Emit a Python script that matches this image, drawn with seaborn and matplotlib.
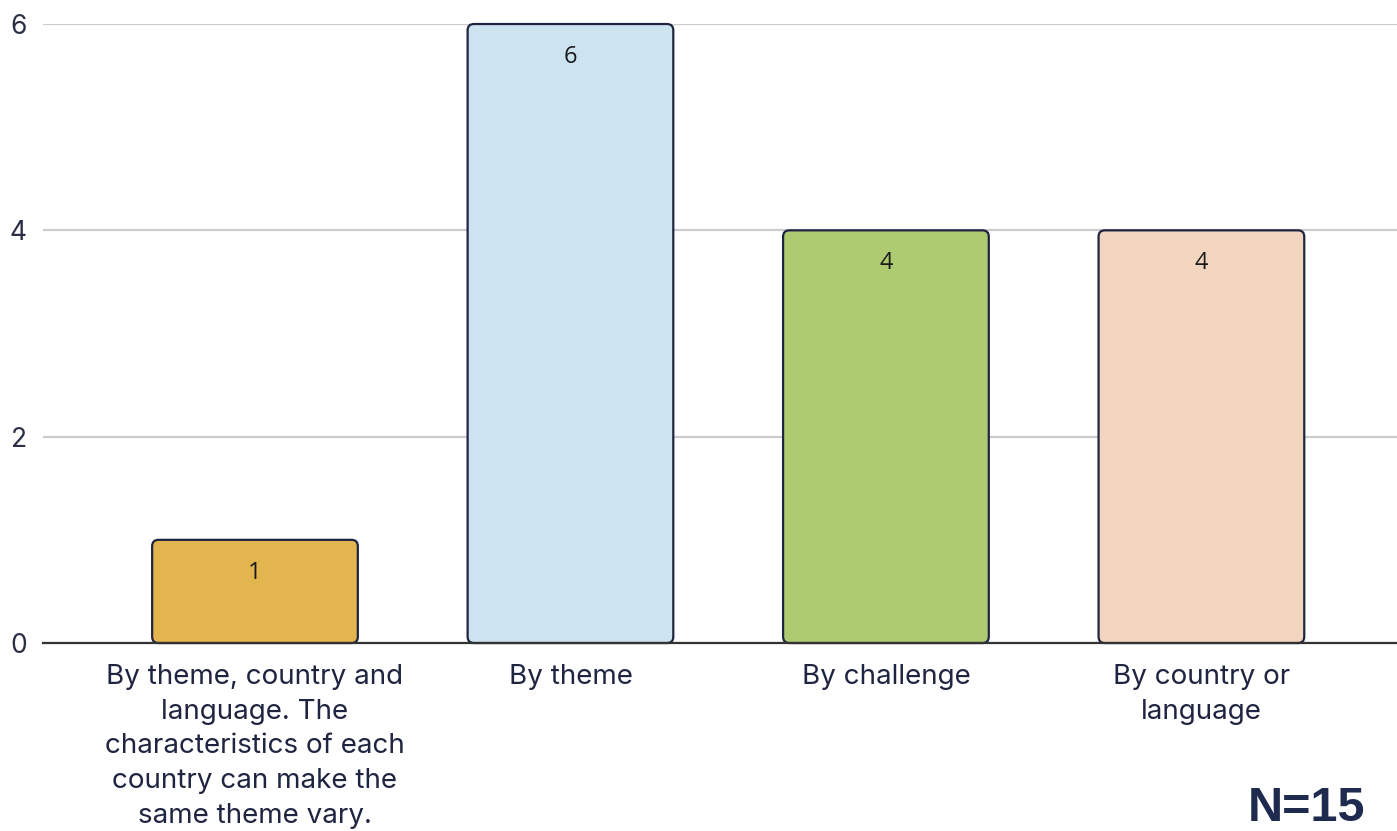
import matplotlib
matplotlib.use("Agg")
import matplotlib.pyplot as plt
import seaborn as sns
import pandas as pd
from matplotlib.patches import FancyBboxPatch

categories = [
    "By theme, country and\nlanguage. The\ncharacteristics of each\ncountry can make the\nsame theme vary.",
    "By theme",
    "By challenge",
    "By country or\nlanguage",
]
values = [1, 6, 4, 4]
colors = ["#E3B54F", "#CDE3EF", "#AECB72", "#F2D5BF"]
y_ticks = [0, 2, 4, 6]
note = "N=15"

sns.set_theme(style="white")
plt.rcParams["font.family"] = ["Inter", "DejaVu Sans"]

df = pd.DataFrame({"cat": categories, "val": values})
fig = plt.figure(figsize=(13.97, 8.31), dpi=100)
ax = fig.add_axes([0.031, 0.2262, 0.969, 0.7449])

sns.barplot(data=df, x="cat", y="val", hue="cat", palette=colors, legend=False,
            width=0.652, saturation=1, ax=ax, zorder=3)

edge = "#1F2440"
bars = list(ax.patches)
for p, v in zip(bars, values):
    x, y, w, h = p.get_x(), p.get_y(), p.get_width(), p.get_height()
    fc = p.get_facecolor()
    p.remove()
    fb = FancyBboxPatch((x, y), w, h, boxstyle="round,pad=0,rounding_size=0.02",
                        mutation_aspect=3.06, facecolor=fc, edgecolor=edge,
                        linewidth=1.6, zorder=3, clip_on=False)
    ax.add_patch(fb)
    ax.annotate(str(v), xy=(x + w / 2, y + h), xytext=(0, -33), textcoords="offset pixels",
                ha="center", va="center", fontsize=17, color="#1A1A1A", zorder=5,
                family=["Open Sans", "DejaVu Sans"])

ax.set_xlim(-0.671, 3.62)
ax.set_ylim(0, 6)
ax.set_yticks(y_ticks)
ax.set_yticklabels([str(t) for t in y_ticks])
ax.yaxis.grid(True, color="#CCCCCC", linewidth=1.6, zorder=0)
ax.set_axisbelow(True)
for s in ["top", "right", "left"]:
    ax.spines[s].set_visible(False)
ax.spines["bottom"].set_color("#333333")
ax.spines["bottom"].set_linewidth(1.6)
ax.spines["bottom"].set_zorder(6)
ax.set_xlabel("")
ax.set_ylabel("")
ax.tick_params(axis="y", length=0, pad=12, labelsize=19, labelcolor="#2A2F45")
ax.tick_params(axis="x", length=0, pad=15, labelsize=20, labelcolor="#1F2440")
for lbl in ax.get_xticklabels():
    lbl.set_linespacing(1.44)
    lbl.set_ha("center")
    lbl.set_va("top")

fig.text(0.977, 0.0, note, ha="right", va="bottom", fontsize=35, fontweight="bold",
         color="#1F2A4F", family=["Liberation Sans", "DejaVu Sans"])

fig.savefig("out.png", dpi=100, facecolor="white")
